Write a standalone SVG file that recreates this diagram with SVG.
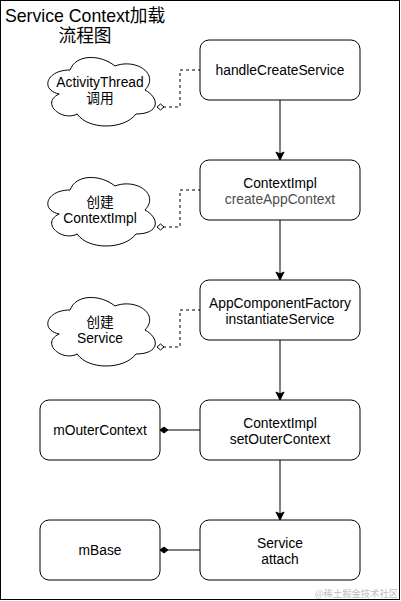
<svg xmlns="http://www.w3.org/2000/svg" width="401" height="601" viewBox="0 0 401 601">
<style>
.box{fill:#fff;stroke:#000;stroke-width:1}
.cloud{fill:#fff;stroke:#000;stroke-width:1}
.t{font-family:"Liberation Sans",Arial,"Noto Sans CJK SC",sans-serif;font-size:13.8px;fill:#000;text-anchor:middle}
.g{fill:#4d4d4d}
.title{font-family:"Liberation Sans",Arial,"Noto Sans CJK SC",sans-serif;font-size:17.7px;fill:#000;text-anchor:middle}
.wm{font-family:"Noto Sans CJK SC","Liberation Sans",sans-serif;font-size:9.3px;fill:#bdbdbd;text-anchor:end}
.flow{fill:none;stroke:#000;stroke-width:1;marker-end:url(#arrow)}
.dash{fill:none;stroke:#000;stroke-width:1;stroke-dasharray:3 3;marker-start:url(#odiamond)}
.comp{fill:none;stroke:#000;stroke-width:1;marker-start:url(#fdiamond)}
</style>
<defs>
<marker id="arrow" markerUnits="userSpaceOnUse" markerWidth="10" markerHeight="10" orient="auto" overflow="visible" refX="0" refY="0">
<path d="M0 0 L-8 -4 L-6 0 L-8 4 Z" fill="#000" stroke="#000" stroke-width="1"/>
</marker>
<marker id="odiamond" markerUnits="userSpaceOnUse" markerWidth="10" markerHeight="10" orient="auto" overflow="visible" refX="0" refY="0">
<path d="M0 0 L3.5 -3 L7 0 L3.5 3 Z" fill="#fff" stroke="#000" stroke-width="1"/>
</marker>
<marker id="fdiamond" markerUnits="userSpaceOnUse" markerWidth="10" markerHeight="10" orient="auto" overflow="visible" refX="0" refY="0">
<path d="M0 0 L4 -3 L8 0 L4 3 Z" fill="#000" stroke="#000" stroke-width="1"/>
</marker>
<path id="cloudShape" d="M 30 20 C 6 20 0 40 19.2 44 C 0 52.8 21.6 72 37.2 64 C 48 80 84 80 96 64 C 120 64 120 48 105 40 C 120 24 96 8 75 16 C 60 4 36 4 30 20 Z"/>
</defs>
<rect x="0" y="0" width="401" height="601" fill="#fff"/>
<rect x="0.5" y="0.5" width="399" height="599" fill="none" stroke="#000" stroke-width="1"/>
<g id="title">
<text class="title" x="85" y="22">Service Context加载</text>
<text class="title" x="85" y="42">流程图</text>
</g>
<g id="connectors">
<path class="flow" d="M280 100 V160"/>
<path class="flow" d="M280 220 V280"/>
<path class="flow" d="M280 340 V400"/>
<path class="flow" d="M280 460 V520"/>
<path class="dash" d="M157 107 H180 V70 H200"/>
<path class="dash" d="M157 227 H180 V190 H200"/>
<path class="dash" d="M157 347 H180 V310 H200"/>
<path class="comp" d="M160 430 H200"/>
<path class="comp" d="M160 550 H200"/>
</g>
<g id="handleCreateService">
<rect class="box" x="200" y="40" width="160" height="60" rx="9"/>
<text class="t" x="280" y="75">handleCreateService</text>
</g>
<g id="createAppContext">
<rect class="box" x="200" y="160" width="160" height="60" rx="9"/>
<text class="t" x="280" y="188">ContextImpl</text>
<text class="t g" x="280" y="204">createAppContext</text>
</g>
<g id="instantiateService">
<rect class="box" x="200" y="280" width="160" height="60" rx="9"/>
<text class="t" x="280" y="308">AppComponentFactory</text>
<text class="t" x="280" y="324">instantiateService</text>
</g>
<g id="setOuterContext">
<rect class="box" x="200" y="400" width="160" height="60" rx="9"/>
<text class="t" x="280" y="428">ContextImpl</text>
<text class="t" x="280" y="444">setOuterContext</text>
</g>
<g id="attach">
<rect class="box" x="200" y="520" width="160" height="60" rx="9"/>
<text class="t" x="280" y="548">Service</text>
<text class="t" x="280" y="564">attach</text>
</g>
<g id="mOuterContext">
<rect class="box" x="40" y="400" width="120" height="60" rx="9"/>
<text class="t" x="100" y="435">mOuterContext</text>
</g>
<g id="mBase">
<rect class="box" x="40" y="520" width="120" height="60" rx="9"/>
<text class="t" x="100" y="555">mBase</text>
</g>
<g id="cloudActivityThread">
<use href="#cloudShape" class="cloud" x="40" y="50"/>
<text class="t" x="100" y="87">ActivityThread</text>
<text class="t" x="100" y="103">调用</text>
</g>
<g id="cloudContextImpl">
<use href="#cloudShape" class="cloud" x="40" y="170"/>
<text class="t" x="100" y="207">创建</text>
<text class="t" x="100" y="223">ContextImpl</text>
</g>
<g id="cloudService">
<use href="#cloudShape" class="cloud" x="40" y="290"/>
<text class="t" x="100" y="327">创建</text>
<text class="t" x="100" y="343">Service</text>
</g>
<text class="wm" x="398" y="597">@稀土掘金技术社区</text>
</svg>
